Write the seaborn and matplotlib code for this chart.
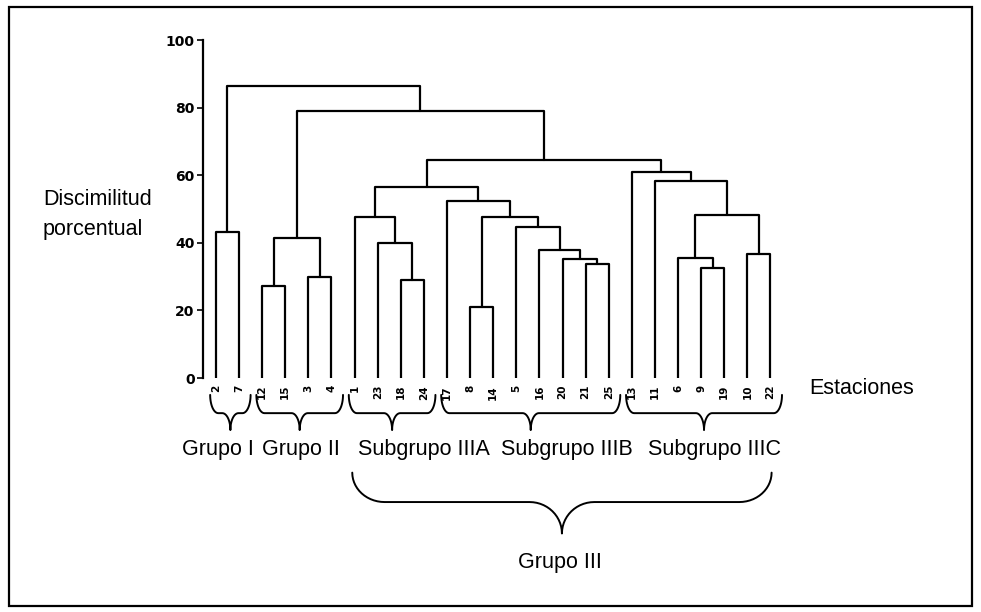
import matplotlib
matplotlib.use("Agg")
import matplotlib.pyplot as plt
import numpy as np
import pandas as pd
import seaborn as sns

sns.set_theme(style="white")
plt.rcParams["font.family"] = ["Liberation Sans", "DejaVu Sans"]
plt.rcParams["text.color"] = "black"
plt.rcParams["xtick.color"] = "black"
plt.rcParams["ytick.color"] = "black"

# leaf order of the dendrogram (stations)
leaves = ["2", "7", "12", "15", "3", "4", "1", "23", "18", "24", "17", "8", "14",
          "5", "16", "20", "21", "25", "13", "11", "6", "9", "19", "10", "22"]

# merges: left child, right child, dissimilarity (%); merged nodes are m0, m1, ...
merge_a = ["2", "12", "3", "m1", "18", "23", "1", "8", "21", "20", "16", "5",
           "m7", "17", "m6", "9", "6", "10", "m16", "11", "13", "m14", "m3", "m0"]
merge_b = ["7", "15", "4", "m2", "24", "m4", "m5", "14", "25", "m8", "m9", "m10",
           "m11", "m12", "m13", "19", "m15", "22", "m17", "m18", "m19", "m20", "m21", "m22"]
merge_h = [43.2, 27.2, 30.0, 41.4, 28.9, 40.0, 47.7, 21.0, 33.6, 35.2, 37.9, 44.7,
           47.7, 52.4, 56.6, 32.5, 35.6, 36.8, 48.3, 58.3, 60.9, 64.5, 79.0, 86.5]

# groups (first leaf, last leaf) and their names
group_names = ["Grupo I", "Grupo II", "Subgrupo IIIA", "Subgrupo IIIB", "Subgrupo IIIC"]
group_first = ["2", "12", "1", "17", "13"]
group_last = ["7", "4", "24", "25", "22"]
big_group = ("Grupo III", "1", "22")

yticks = [0, 20, 40, 60, 80, 100]

# ---- build dendrogram link paths
pos = {lab: (i, 0.0) for i, lab in enumerate(leaves)}
rows = []
for k, (a, b, h) in enumerate(zip(merge_a, merge_b, merge_h)):
    xa, ha = pos[a]
    xb, hb = pos[b]
    for j, (x, y) in enumerate([(xa, ha), (xa, h), (xb, h), (xb, hb)]):
        rows.append({"link": k, "order": j, "x": x, "y": y})
    pos[f"m{k}"] = ((xa + xb) / 2, h)
links = pd.DataFrame(rows)

W, H = 981, 612
fig = plt.figure(figsize=(W / 100, H / 100), dpi=100)
ax = fig.add_axes([203 / W, (H - 378) / H, (782 - 203) / W, 338 / H])

sns.lineplot(data=links, x="x", y="y", units="link", estimator=None, sort=False,
             color="black", linewidth=1.6, legend=False, ax=ax)

ax.set_xlim(-0.56, 24.5)
ax.set_ylim(0, 100)
for s in ["top", "right", "bottom"]:
    ax.spines[s].set_visible(False)
ax.spines["left"].set_color("black")
ax.spines["left"].set_linewidth(1.6)
ax.set_yticks(yticks)
ax.set_yticklabels([str(t) for t in yticks], fontsize=10, fontweight="bold",
                   family="DejaVu Sans")
ax.set_xticks(range(len(leaves)))
ax.set_xticklabels(leaves, rotation=90, fontsize=7.5, fontweight="bold",
                   family="DejaVu Sans")
ax.tick_params(axis="y", length=4, width=1.2, color="black", direction="out", pad=2, left=True)
ax.tick_params(axis="x", length=0, pad=5)
ax.set_xlabel("")
ax.set_ylabel("")


def brace(x0, x1, y_top, y_mid, y_tip, r):
    xc = (x0 + x1) / 2
    t = np.linspace(0, np.pi / 2, 15)
    lx1 = x0 + r - r * np.cos(t)
    ly1 = y_top - (y_top - y_mid) * np.sin(t)
    lx2 = xc - r + r * np.sin(t)
    ly2 = y_tip + (y_mid - y_tip) * np.cos(t)
    xs = np.concatenate([lx1, lx2])
    ys = np.concatenate([ly1, ly2])
    xs = np.concatenate([xs, (2 * xc - xs)[::-1]])
    ys = np.concatenate([ys, ys[::-1]])
    ax.plot(xs, ys, color="black", lw=1.4, clip_on=False, solid_joinstyle="round")


idx = {lab: i for i, lab in enumerate(leaves)}
label_x = [0.1, 3.7, 9.0, 15.2, 21.6]
for name, f, l, lx in zip(group_names, group_first, group_last, label_x):
    brace(idx[f] - 0.25, idx[l] + 0.5, -5.0, -10.4, -15.4, 0.35)
    ax.text(lx, -21.3, name, ha="center", va="center", fontsize=15.5, clip_on=False)

name, f, l = big_group
brace(idx[f] - 0.1, idx[l] + 0.05, -28.0, -36.7, -46.0, 1.4)
ax.text(14.9, -54.7, name, ha="center", va="center", fontsize=15.5, clip_on=False)

ax.text(25.7, -3.0, "Estaciones", ha="left", va="center", fontsize=15.5, clip_on=False)

fig.text(43 / W, 1 - 200 / H, "Discimilitud", ha="left", va="center", fontsize=15.5)
fig.text(43 / W, 1 - 230 / H, "porcentual", ha="left", va="center", fontsize=15.5)

fig.add_artist(plt.Rectangle((9 / W, 1 - 606 / H), (972 - 9) / W, (606 - 7) / H,
                             transform=fig.transFigure, fill=False,
                             edgecolor="black", linewidth=1.6))

fig.savefig("out.png", dpi=100)
